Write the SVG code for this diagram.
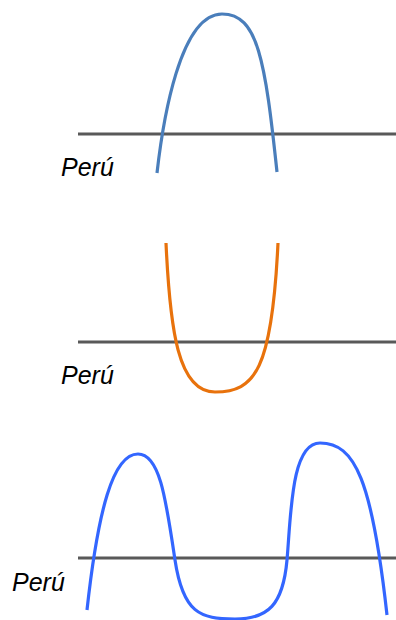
<svg xmlns="http://www.w3.org/2000/svg" width="396" height="620" viewBox="0 0 396 620">
<style>
.axis{stroke:#595959;stroke-width:3;fill:none}
.curve{fill:none;stroke-width:3.2;stroke-linecap:butt}
.lbl{font-family:"Liberation Sans",Arial,sans-serif;font-style:italic;font-size:25px;fill:#000}
</style>
<rect width="396" height="620" fill="#fff"/>
<g id="panel1">
<line class="axis" x1="78" y1="134" x2="396" y2="134"/>
<path class="curve" stroke="#4a7ebb" d="M157,173 C163,120 180,14 222,14 C258,14 265,60 277,172"/>
<text class="lbl" x="61" y="176">Perú</text>
</g>
<g id="panel2">
<line class="axis" x1="78" y1="342" x2="396" y2="342"/>
<path class="curve" stroke="#e8720c" d="M166,243 C170,330 178,392 215,392 C255,392 272,370 278,243"/>
<text class="lbl" x="61" y="384">Perú</text>
</g>
<g id="panel3">
<line class="axis" x1="78" y1="558" x2="396" y2="558"/>
<path class="curve" stroke="#3366ff" d="M87,610 C98,510 113,454 138,454 C160,454 166,500 175,560 C183,613 200,619 235,619 C268,619 283,605 287,560 C291,515 291,443 320,443 C355,443 372,480 387,615"/>
<text class="lbl" x="12" y="591">Perú</text>
</g>
</svg>
